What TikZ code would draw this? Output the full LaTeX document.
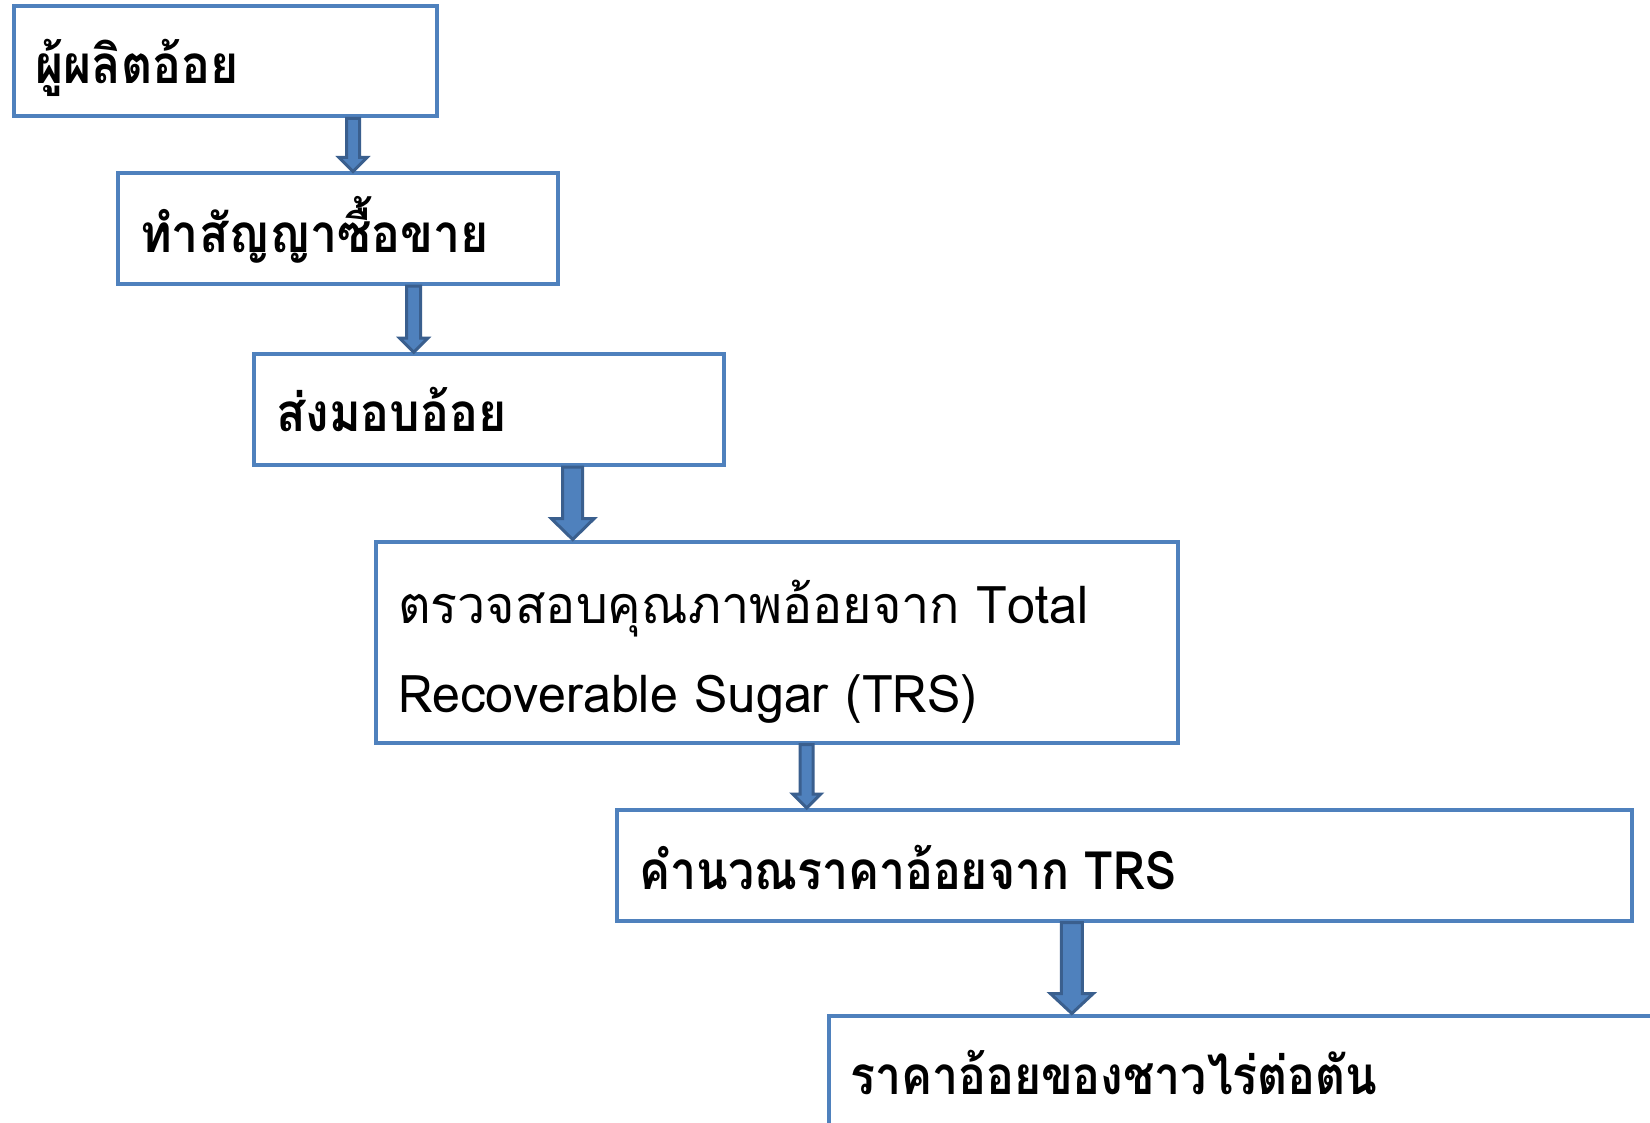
\documentclass[tikz,border=0pt]{standalone}
\usepackage{fontspec}
\setmainfont[Script=Thai]{Loma}
\newfontfamily\lomabold[Script=Thai,FakeStretch=0.91]{Loma}
\newfontfamily\lomanarrow[Script=Thai,FakeStretch=0.875]{Loma}
\newfontfamily\lomareg[Script=Thai,FakeStretch=0.965]{Loma}
\usetikzlibrary{calc}
\definecolor{boxline}{HTML}{4F81BD}
\definecolor{arrowfill}{HTML}{4F81BD}
\definecolor{arrowline}{HTML}{3A5F8E}
\tikzset{
  x=1pt, y=-1pt,
  flowbox/.style={draw=boxline, line width=4pt, rectangle, inner sep=0pt, fill=white},
  txt/.style={inner sep=0pt, anchor=base west, font=\lomabold\fontsize{53}{60}\selectfont\bfseries},
  txtnarrow/.style={inner sep=0pt, anchor=base west, font=\lomanarrow\fontsize{53}{60}\selectfont\bfseries},
  txtreg/.style={inner sep=0pt, anchor=base west, font=\lomareg\fontsize{52}{60}\selectfont},
  blockarrow/.style n args={3}{draw=arrowline, fill=arrowfill, line width=3pt, line join=miter,
    to path={let \p1=(\tikztostart), \p2=(\tikztotarget) in
      (\x1-0.5*#1pt,\y1) -- (\x1-0.5*#1pt,\y2+#3pt) -- (\x1-0.5*#2pt,\y2+#3pt) -- (\x1,\y2)
      -- (\x1+0.5*#2pt,\y2+#3pt) -- (\x1+0.5*#1pt,\y2+#3pt) -- (\x1+0.5*#1pt,\y1) -- cycle}}
}
\begin{document}
\begin{tikzpicture}
\useasboundingbox (0,0) rectangle (1650,1123);
\clip (0,0) rectangle (1650,1123);
\fill[white] (0,0) rectangle (1650,1123);

\node[flowbox, minimum width=423pt, minimum height=110.5pt] (b1) at (225,61.25) {};
\node[flowbox, minimum width=440pt, minimum height=110.7pt] (b2) at (338,228.85) {};
\node[flowbox, minimum width=470pt, minimum height=110.8pt] (b3) at (489,409.6) {};
\node[flowbox, minimum width=802pt, minimum height=201pt] (b4) at (777,642) {};
\node[flowbox, minimum width=1015pt, minimum height=110.5pt] (b5) at (1124.5,865.25) {};
\node[flowbox, minimum width=871pt, minimum height=184.5pt] (b6) at (1264.5,1107.75) {};

\node[txt] (t1) at (35,84) {ผู้ผลิตอ้อย};
\node[txt] (t2) at (140,253) {ทำสัญญาซื้อขาย};
\node[txt] (t3) at (276,431) {ส่งมอบอ้อย};
\node[txtreg] (t4a) at (398,623) {ตรวจสอบคุณภาพอ้อยจาก Total};
\node[txtreg] (t4b) at (398,712) {Recoverable Sugar (TRS)};
\node[txtnarrow] (t5) at (639,889) {คำนวณราคาอ้อยจาก TRS};
\node[txtnarrow] (t6) at (850,1094) {ราคาอ้อยของชาวไร่ต่อตัน};

\coordinate (c1) at (353,0);
\coordinate (c2) at (413.7,0);
\coordinate (c3) at (572.7,0);
\coordinate (c4) at (806.7,0);
\coordinate (c5) at (1071.8,0);

\draw[blockarrow={13}{28}{14}] (b1.south -| c1) to (b2.north -| c1);
\draw[blockarrow={14}{28}{14}] (b2.south -| c2) to (b3.north -| c2);
\draw[blockarrow={20}{43}{21}] (b3.south -| c3) to (b4.north -| c3);
\draw[blockarrow={13}{28}{14}] (b4.south -| c4) to (b5.north -| c4);
\draw[blockarrow={21}{43}{20}] (b5.south -| c5) to (b6.north -| c5);
\end{tikzpicture}
\end{document}
